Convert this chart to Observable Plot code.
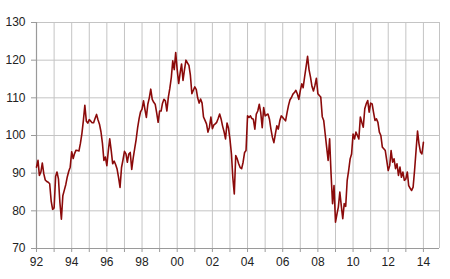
<!DOCTYPE html>
<html><head><meta charset="utf-8">
<script src="https://cdn.jsdelivr.net/npm/d3@7"></script>
<script src="https://cdn.jsdelivr.net/npm/@observablehq/plot@0.6"></script>
<style>html,body{margin:0;padding:0;background:#fff}</style>
</head><body><div id="chart"></div>
<script>
// Monthly index, January 1992 to January 2014
const startYear = 1992;
const domainEndYear = 2014; // axis runs through December 2014
const values = [
  // 1992
  91.6, 93.4, 89.4, 90.3, 92.7, 89.8, 88.2, 87.8, 87.6, 87.2, 82.6, 80.4,
  // 1993
  80.8, 89.1, 90.3, 88.5, 82.2, 77.8, 84.0, 85.5, 87.0, 89.0, 90.5, 91.6,
  // 1994
  95.7, 93.9, 95.2, 96.1, 96.0, 95.9, 97.9, 100.5, 104.0, 108.0, 103.8, 103.3,
  // 1995
  104.2, 103.8, 103.4, 103.4, 104.5, 105.6, 104.2, 103.0, 101.0, 98.0, 93.4, 94.3,
  // 1996
  92.0, 96.0, 99.1, 96.0, 92.5, 93.2, 92.3, 91.1, 88.8, 86.2, 91.5, 93.5,
  // 1997
  95.8, 95.1, 92.9, 95.1, 95.5, 91.0, 94.0, 96.5, 99.0, 102.0, 104.5, 106.3,
  // 1998
  107.0, 109.2, 107.0, 104.8, 108.3, 110.0, 112.3, 109.6, 108.8, 108.3, 106.0, 103.5,
  // 1999
  106.5, 106.5, 108.5, 109.6, 109.2, 106.5, 110.1, 112.5, 115.4, 119.8, 117.5, 122.0,
  // 2000
  117.5, 113.8, 116.5, 119.0, 114.6, 117.5, 120.0, 119.3, 118.6, 116.0, 111.1, 112.0,
  // 2001
  112.9, 112.2, 110.0, 108.6, 109.7, 108.6, 104.9, 104.0, 103.1, 100.9, 102.2, 104.9,
  // 2002
  101.8, 102.8, 103.1, 103.5, 104.5, 105.7, 104.4, 102.5, 101.0, 99.1, 103.3, 102.0,
  // 2003
  99.0, 95.1, 88.9, 84.5, 94.7, 93.8, 92.5, 91.5, 91.2, 92.9, 95.5, 96.0,
  // 2004
  105.2, 104.8, 105.2, 104.5, 104.3, 101.7, 105.7, 106.5, 108.3, 106.1, 102.1, 107.4,
  // 2005
  105.2, 105.5, 105.7, 104.3, 101.7, 99.5, 98.1, 100.4, 102.6, 101.7, 103.9, 105.2,
  // 2006
  104.8, 104.3, 103.9, 106.1, 108.0, 109.5, 110.1, 111.0, 111.4, 112.0, 111.0, 109.6,
  // 2007
  111.9, 113.7, 112.7, 115.6, 118.2, 121.0, 117.5, 115.5, 113.0, 111.8, 113.3, 115.2,
  // 2008
  111.1, 110.6, 110.2, 105.0, 104.0, 100.4, 96.9, 93.4, 99.1, 89.8, 81.9, 86.7,
  // 2009
  77.0, 79.2, 81.0, 85.0, 81.4, 77.9, 81.9, 81.2, 88.1, 90.7, 93.8, 95.1,
  // 2010
  100.4, 99.1, 100.9, 100.0, 99.1, 104.9, 103.5, 102.2, 107.1, 108.4, 109.3, 106.2,
  // 2011
  108.6, 108.4, 106.2, 104.0, 104.4, 103.5, 100.9, 100.0, 96.9, 96.5, 96.0, 93.4,
  // 2012
  90.7, 92.0, 96.0, 92.9, 93.8, 91.2, 92.5, 89.4, 91.6, 88.9, 90.3, 88.1,
  // 2013
  88.5, 90.3, 86.7, 86.0, 85.4, 86.3, 90.7, 96.0, 101.2, 97.8, 95.6, 95.1,
  // 2014
  98.2
];
const yTicks = [70, 80, 90, 100, 110, 120, 130];
const tickYears = d3.range(startYear, domainEndYear + 1);
const labelYears = d3.range(startYear, domainEndYear + 1, 2);

const data = values.map((v, i) => ({date: new Date(Date.UTC(startYear, i, 1)), value: v}));
const yearDate = y => new Date(Date.UTC(y, 0, 1));
const domainStart = new Date(Date.UTC(startYear, 0, 1));
const domainEnd = new Date(Date.UTC(domainEndYear, 11, 1));

const chart = Plot.plot({
  width: 450,
  height: 279,
  marginLeft: 36,
  marginRight: 11,
  marginTop: 22,
  marginBottom: 31,
  style: {fontFamily: "Arial, 'Liberation Sans', sans-serif", fontSize: "12px", color: "#222", background: "#fff"},
  x: {type: "utc", domain: [domainStart, domainEnd]},
  y: {domain: [70, 130]},
  marks: [
    Plot.gridX(tickYears.map(yearDate), {stroke: "#c4c4c4", strokeOpacity: 1}),
    Plot.ruleX([domainEnd], {stroke: "#c4c4c4"}),
    Plot.gridY(yTicks, {stroke: "#c4c4c4", strokeOpacity: 1}),
    Plot.ruleX([domainStart], {stroke: "#9a9a9a", strokeWidth: 1.2}),
    Plot.ruleY([70], {stroke: "#9a9a9a", strokeWidth: 1.2}),
    Plot.axisY(yTicks, {tickSize: 5, tickPadding: 6, stroke: "#9a9a9a", fill: "#222", label: null}),
    Plot.axisX(tickYears.map(yearDate), {tickSize: 4, text: null, stroke: "#9a9a9a", label: null}),
    Plot.axisX(labelYears.map(yearDate), {tickSize: 0, tickPadding: 9, fill: "#222", label: null,
      tickFormat: d => String(d.getUTCFullYear() % 100).padStart(2, "0")}),
    Plot.lineY(data, {x: "date", y: "value", stroke: "#8b0a0a", strokeWidth: 1.6})
  ]
});
document.getElementById("chart").appendChild(chart);
</script>
</body></html>
